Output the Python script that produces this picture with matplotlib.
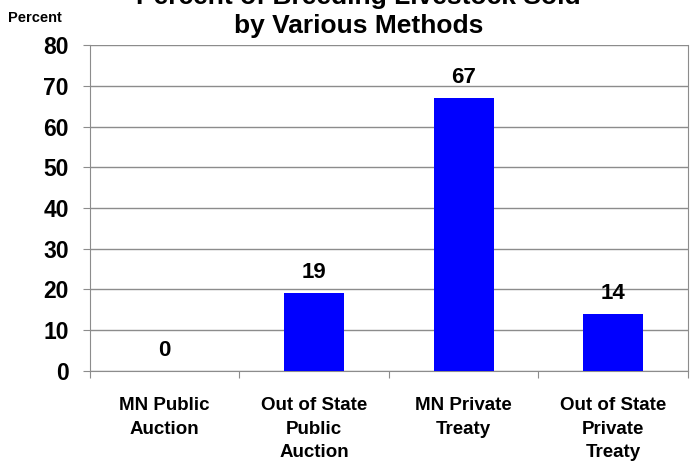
import matplotlib.pyplot as plt
import numpy as np

plt.rcParams['font.family'] = ['Liberation Sans', 'DejaVu Sans']

# ── Data ───────────────────────────────────────────────────────────────────────
categories = ["MN Public\nAuction", "Out of State\nPublic\nAuction",
              "MN Private\nTreaty", "Out of State\nPrivate\nTreaty"]
values = [0, 19, 67, 14]
yticks = [0, 10, 20, 30, 40, 50, 60, 70, 80]

C_BAR = "#0000FF"
C_GRID = "#8C8C8C"

fig = plt.figure(figsize=(6.9, 4.7), dpi=100)
ax = fig.add_axes([0.130, 0.211, 0.867, 0.693])

x = np.arange(len(categories))
ax.bar(x, values, width=0.4, color=C_BAR, zorder=3)

for xi, v in zip(x, values):
    ax.text(xi, v + 2.5, str(v), ha="center", va="bottom",
            fontsize=16, fontweight="bold", color="black")

ax.set_xlim(-0.5, len(categories) - 0.5)
ax.set_ylim(0, 80)
ax.set_yticks(yticks)
ax.set_yticklabels([str(t) for t in yticks], fontsize=16.5, fontweight="bold")
ax.grid(axis="y", color=C_GRID, linewidth=1.0, zorder=0)

# category labels between boundary ticks
ax.set_xticks(np.arange(-0.5, len(categories), 1.0))
ax.set_xticklabels([])
ax.tick_params(axis="x", direction="out", length=5, color=C_GRID)
ax.tick_params(axis="y", direction="out", length=5, color=C_GRID, pad=10)
for xi, lab in zip(x, categories):
    ax.text(xi, -6.5, lab, ha="center", va="top", fontsize=13.5,
            fontweight="bold", linespacing=1.5)

for side in ["left", "bottom", "right"]:
    ax.spines[side].set_color(C_GRID)
ax.spines["top"].set_visible(False)

fig.text(0.012, 0.962, "Percent", fontsize=10.5, fontweight="bold",
         ha="left", va="center")
# first title line is clipped by the top edge, as in the source image
fig.text(0.52, 0.975, "Percent of Breeding Livestock Sold\nby Various Methods",
         ha="center", va="center", fontsize=19, fontweight="bold",
         linespacing=1.25)

fig.savefig("out.png", dpi=100)
